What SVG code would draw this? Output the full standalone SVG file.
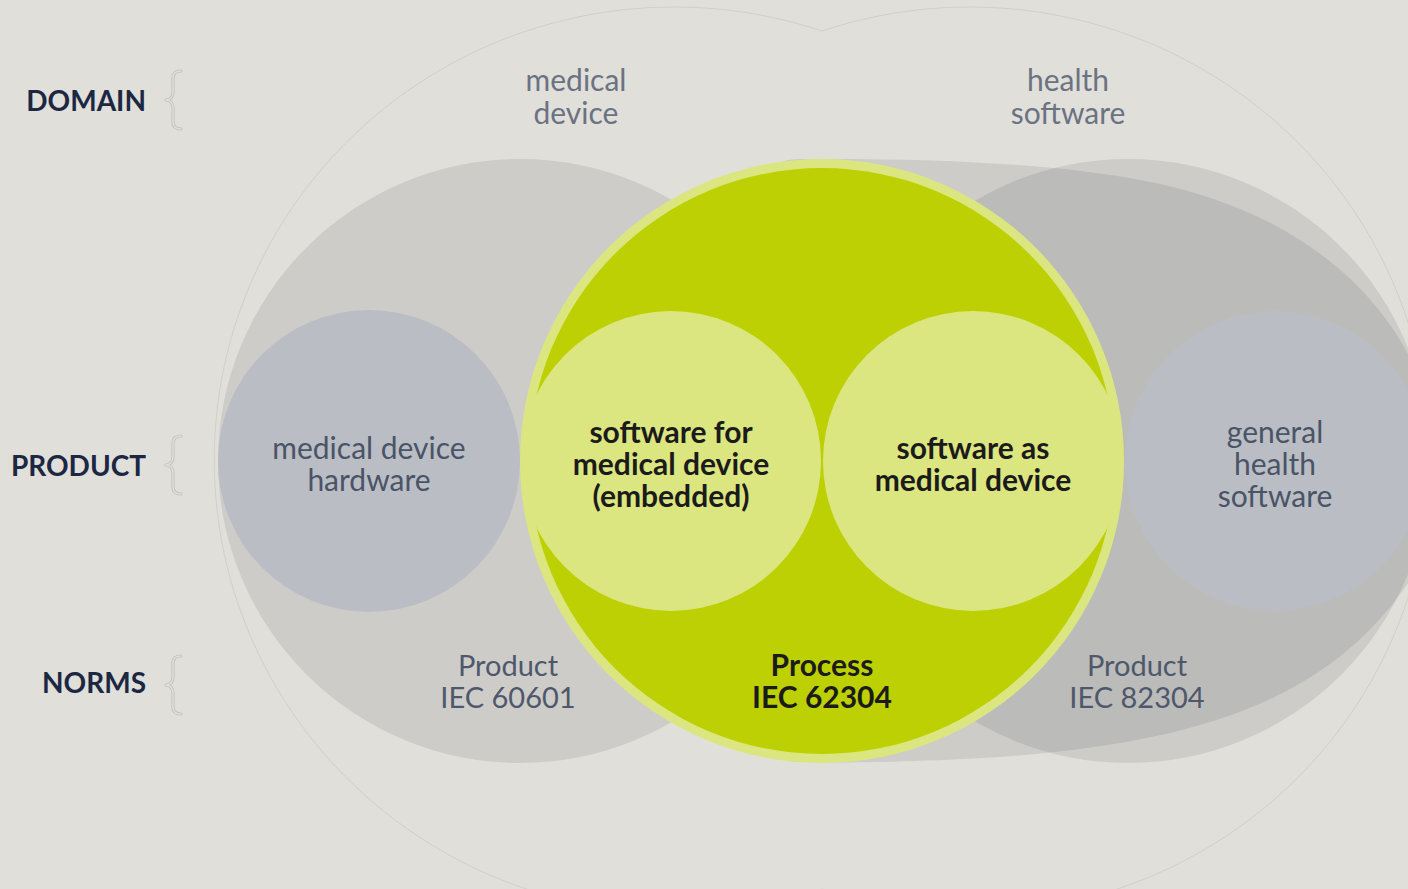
<svg xmlns="http://www.w3.org/2000/svg" width="1408" height="889" viewBox="0 0 1408 889">
  <style>
    text { font-family: Lato, "Open Sans", "Liberation Sans", sans-serif; text-anchor: middle; }
    .axis { font-weight: 700; font-size: 28px; fill: #1c2742; text-anchor: end; }
    .domain { font-size: 30px; fill: #6b7282; }
    .prod { font-size: 30px; fill: #4a5467; }
    .norm { font-size: 29px; fill: #4f586b; }
    .key { font-size: 30px; font-weight: 700; fill: #1b1b1b; }
    .grey { fill: #cdccc8; }
    .overlap { fill: #bbbbb9; }
    .sub { fill: #babdc4; }
    .ring { fill: #dce680; }
    .core { fill: #bdd003; }
    .brace-out { fill: none; stroke: #c3c3be; stroke-width: 3.2; stroke-linecap: round; stroke-linejoin: round; }
    .brace-in { fill: none; stroke: #e0dfda; stroke-width: 1.4; stroke-linecap: round; stroke-linejoin: round; }
  </style>
  <defs>
    <path id="brace" d="M 8,-29 Q 0,-29 0,-22 L 0,-8 Q 0,-1 -7,0 Q 0,1 0,8 L 0,22 Q 0,29 8,29"/>
    <path id="hsShape" d="M 770,175 C 775,162 785,159 800,159 C 950,158 1060,165 1140,180 C 1280,205 1380,280 1420,380 C 1450,460 1440,520 1410,580 C 1330,700 1200,742 1000,757 C 900,763 820,763 800,762 C 785,762 775,758 770,747 C 600,600 600,300 770,175 Z"/>
    <clipPath id="rightCircleClip">
      <circle cx="1128" cy="461" r="302"/>
    </clipPath>
  </defs>

  <!-- page background -->
  <rect x="0" y="0" width="1408" height="889" fill="#e0dfda"/>

  <!-- domain outline: union of the two domain ellipses -->
  <g id="domain-outline">
    <path d="M 822,31 A 460,453 0 1,0 822,889 A 460,453 0 1,0 822,31 Z" fill="none" stroke="#cecdc8" stroke-width="0.9"/>
  </g>

  <!-- product level: health software region -->
  <g id="health-software-product">
    <use href="#hsShape" class="grey"/>
    <circle cx="1128" cy="461" r="302" class="grey"/>
    <use href="#hsShape" class="overlap" clip-path="url(#rightCircleClip)"/>
  </g>

  <!-- product level: medical device region -->
  <g id="medical-device-product">
    <circle cx="520" cy="461" r="302" class="grey"/>
  </g>

  <g id="medical-device-hardware">
    <circle cx="369" cy="461" r="151" class="sub"/>
    <text class="prod" x="369" y="459">medical device</text>
    <text class="prod" x="369" y="491">hardware</text>
  </g>

  <g id="general-health-software">
    <circle cx="1275" cy="461" r="150" class="sub"/>
    <text class="prod" x="1275" y="443">general</text>
    <text class="prod" x="1275" y="475">health</text>
    <text class="prod" x="1275" y="507">software</text>
  </g>

  <!-- process scope: IEC 62304 -->
  <g id="process-iec62304">
    <circle cx="822" cy="461" r="302" class="ring"/>
    <circle cx="822" cy="461" r="293" class="core"/>
    <text class="key" x="822" y="676">Process</text>
    <text class="key" x="822" y="708">IEC 62304</text>
  </g>

  <g id="software-embedded">
    <circle cx="671" cy="461" r="150" class="ring"/>
    <text class="key" x="671" y="443">software for</text>
    <text class="key" x="671" y="475">medical device</text>
    <text class="key" x="671" y="507">(embedded)</text>
  </g>

  <g id="software-as-medical-device">
    <circle cx="973" cy="461" r="150" class="ring"/>
    <text class="key" x="973" y="459">software as</text>
    <text class="key" x="973" y="491">medical device</text>
  </g>

  <!-- domain labels -->
  <g id="domain-medical-device">
    <text class="domain" x="576" y="91">medical</text>
    <text class="domain" x="576" y="124">device</text>
  </g>
  <g id="domain-health-software">
    <text class="domain" x="1068" y="91">health</text>
    <text class="domain" x="1068" y="124">software</text>
  </g>

  <!-- norm labels -->
  <g id="norm-iec60601">
    <text class="norm" x="508" y="676">Product</text>
    <text class="norm" x="508" y="708">IEC 60601</text>
  </g>
  <g id="norm-iec82304">
    <text class="norm" x="1137" y="676">Product</text>
    <text class="norm" x="1137" y="708">IEC 82304</text>
  </g>

  <!-- row headings with braces -->
  <g id="row-domain">
    <text class="axis" x="146" y="111">DOMAIN</text>
    <use href="#brace" class="brace-out" transform="translate(173,100)"/>
    <use href="#brace" class="brace-in" transform="translate(173,100)"/>
  </g>
  <g id="row-product">
    <text class="axis" x="146" y="476">PRODUCT</text>
    <use href="#brace" class="brace-out" transform="translate(173,465)"/>
    <use href="#brace" class="brace-in" transform="translate(173,465)"/>
  </g>
  <g id="row-norms">
    <text class="axis" x="146" y="693">NORMS</text>
    <use href="#brace" class="brace-out" transform="translate(173,685)"/>
    <use href="#brace" class="brace-in" transform="translate(173,685)"/>
  </g>

  <!-- no connectors in this diagram -->
  <g id="connectors"/>
</svg>
